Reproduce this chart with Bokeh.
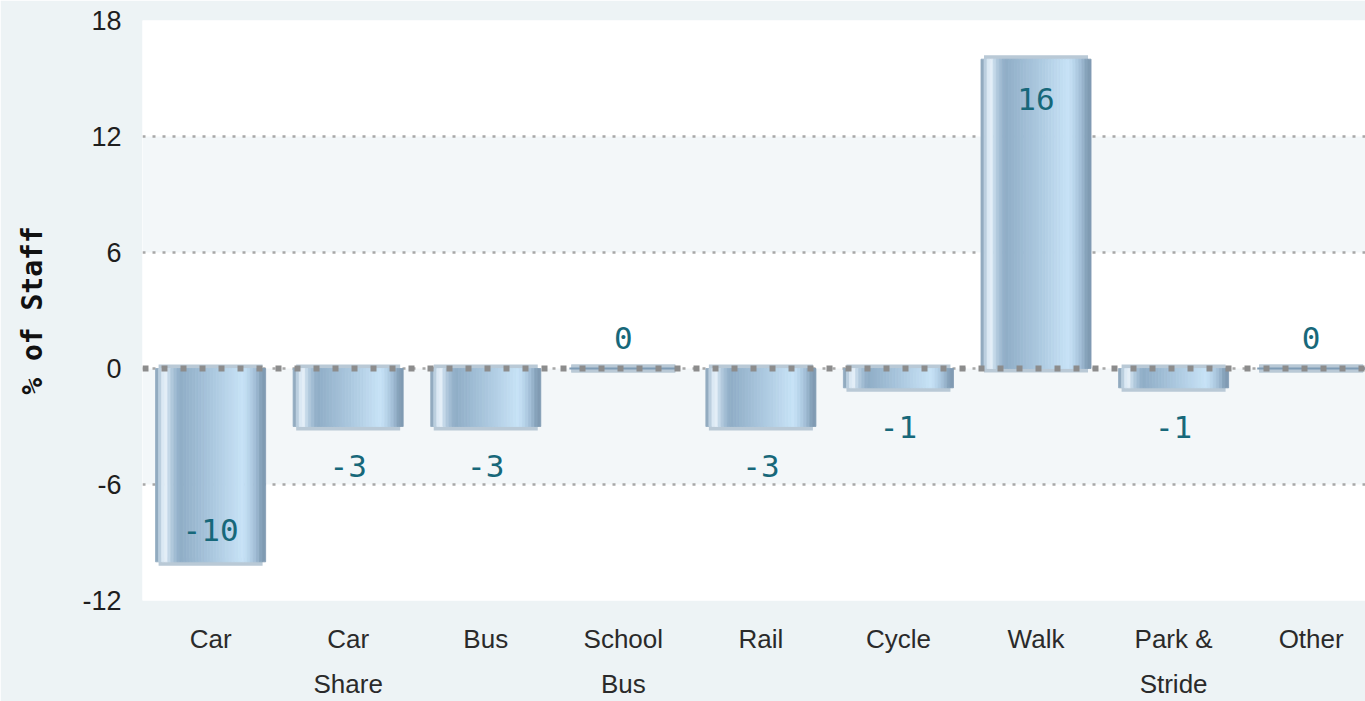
import numpy as np
from bokeh.plotting import figure
from bokeh.models import Range1d, FixedTicker, Span, ColumnDataSource
from bokeh.core.properties import value
from bokeh.embed import file_html
from bokeh.resources import INLINE

# ---------------- data ----------------
categories = ["Car", "Car\nShare", "Bus", "School\nBus", "Rail", "Cycle", "Walk", "Park &\nStride", "Other"]
values = [-10, -3, -3, 0, -3, -1, 16, -1, 0]
y_ticks = [-12, -6, 0, 6, 12, 18]
y_title = "% of Staff"

# ---------------- styles ----------------
BAR_W = 0.8
RIM = "#b9c9d6"
LABEL_COL = "#17687a"
# colour stops across the cylinder (fraction of width, colour)
stops = [
    (0.00, "#7f99b0"), (0.03, "#a9c0d3"), (0.06, "#d8e7f3"), (0.10, "#e4eef7"),
    (0.13, "#bdd3e5"), (0.17, "#a6c0d6"), (0.22, "#8fadc6"), (0.50, "#a9c6dd"),
    (0.80, "#c8e3f7"), (0.86, "#b5d1e8"), (0.92, "#9db9d1"), (0.96, "#86a2ba"),
    (1.00, "#7d98b0"),
]


def hex2rgb(h):
    return np.array([int(h[i:i + 2], 16) for i in (1, 3, 5)], dtype=float)


def colour_at(f):
    for (f0, c0), (f1, c1) in zip(stops[:-1], stops[1:]):
        if f0 <= f <= f1:
            t = 0 if f1 == f0 else (f - f0) / (f1 - f0)
            rgb = hex2rgb(c0) * (1 - t) + hex2rgb(c1) * t
            return "#%02x%02x%02x" % tuple(int(round(v)) for v in rgb)
    return stops[-1][1]


N_STRIPS = 36
edges = np.linspace(0, 1, N_STRIPS + 1)
strip_mid = (edges[:-1] + edges[1:]) / 2
strip_cols = [colour_at(f) for f in strip_mid]

# ---------------- figure ----------------
p = figure(width=1365, height=701, output_backend="svg", toolbar_location=None,
           x_range=Range1d(-0.495, 8.395), y_range=Range1d(y_ticks[0], y_ticks[-1]),
           min_border_left=142, min_border_right=0, min_border_top=20, min_border_bottom=100)
p.background_fill_color = "white"
p.border_fill_color = "#edf3f5"
p.outline_line_color = None

# grid
p.xgrid.visible = False
p.ygrid.ticker = FixedTicker(ticks=y_ticks)
p.ygrid.grid_line_color = "#a8a8a8"
p.ygrid.grid_line_width = 2.5
p.ygrid.grid_line_dash = "3 7"
p.ygrid.band_fill_color = "#f3f7f9"
p.ygrid.band_fill_alpha = 1.0

# y axis
p.yaxis.ticker = FixedTicker(ticks=y_ticks)
p.yaxis.major_label_overrides = {t: str(t) for t in y_ticks}
p.yaxis.axis_line_color = None
p.yaxis.major_tick_line_color = None
p.yaxis.minor_tick_line_color = None
p.yaxis.major_label_text_font = "Liberation Sans"
p.yaxis.major_label_text_font_size = "27px"
p.yaxis.major_label_text_color = "#1e1e1e"
p.yaxis.major_label_standoff = 15
p.yaxis.axis_label = y_title
p.yaxis.axis_label_text_font = "DejaVu Sans Mono"
p.yaxis.axis_label_text_font_style = "bold"
p.yaxis.axis_label_text_font_size = "28px"
p.yaxis.axis_label_text_color = "#111111"
p.yaxis.axis_label_standoff = 30

# x axis
p.xaxis.ticker = FixedTicker(ticks=list(range(len(categories))))
p.xaxis.major_label_overrides = {i: c for i, c in enumerate(categories)}
p.xaxis.axis_line_color = None
p.xaxis.major_tick_line_color = None
p.xaxis.minor_tick_line_color = None
p.xaxis.major_label_text_font = "Liberation Sans"
p.xaxis.major_label_text_font_size = "26px"
p.xaxis.major_label_text_color = "#2a2a2a"
p.xaxis.major_label_standoff = 17
p.xaxis.major_label_text_line_height = 1.5

# ---------------- bars ----------------
xs_idx = np.arange(len(values))
vals = np.array(values, dtype=float)

# rims at both ends of each bar (and the flat disc of zero bars)
rim_x = np.concatenate([xs_idx, xs_idx])
rim_y = np.concatenate([vals, np.zeros_like(vals)])
p.rect(x=rim_x, y=rim_y, width=BAR_W * 0.945, height=8, height_units="screen",
       fill_color=RIM, line_color=None)

# cylinder bodies made of vertical strips
sx, sw, st, sc = [], [], [], []
for i, v in zip(xs_idx, vals):
    if v == 0:
        continue
    for k in range(N_STRIPS):
        sx.append(i - BAR_W / 2 + strip_mid[k] * BAR_W)
        sw.append(BAR_W / N_STRIPS)
        st.append(v)
        sc.append(strip_cols[k])
strip_src = ColumnDataSource(dict(x=sx, w=sw, top=st, c=sc))
p.vbar(x="x", width="w", top="top", bottom=0, source=strip_src,
       fill_color="c", line_color="c", line_width=0.8)

# dark rim line on zero-valued bars
zero_idx = xs_idx[vals == 0]
p.rect(x=zero_idx, y=np.zeros(len(zero_idx)), width=BAR_W * 0.98, height=2,
       height_units="screen", fill_color="#7f9cb5", line_color=None)

# zero line (dotted, on top)
p.add_layout(Span(location=0, dimension="width", line_color="#8c8c8c",
                  line_width=6, line_dash="6 13"))

# ---------------- value labels ----------------
y_lo, y_hi = y_ticks[0], y_ticks[-1]
offs = []
for v in vals:
    if v > 0:
        offs.append(40 if v + 2.2 > y_hi else -31)
    elif v < 0:
        offs.append(-32 if v - 2.2 < y_lo else 39)
    else:
        offs.append(-31)
lab_src = ColumnDataSource(dict(x=xs_idx, y=vals, t=[str(int(v)) for v in vals], off=offs))
p.text(x="x", y="y", text="t", y_offset="off", source=lab_src,
       text_align="center", text_baseline="middle",
       text_font=value("DejaVu Sans Mono"), text_font_size="31px",
       text_color=LABEL_COL)

open("out.html", "w").write(file_html(p, INLINE))
